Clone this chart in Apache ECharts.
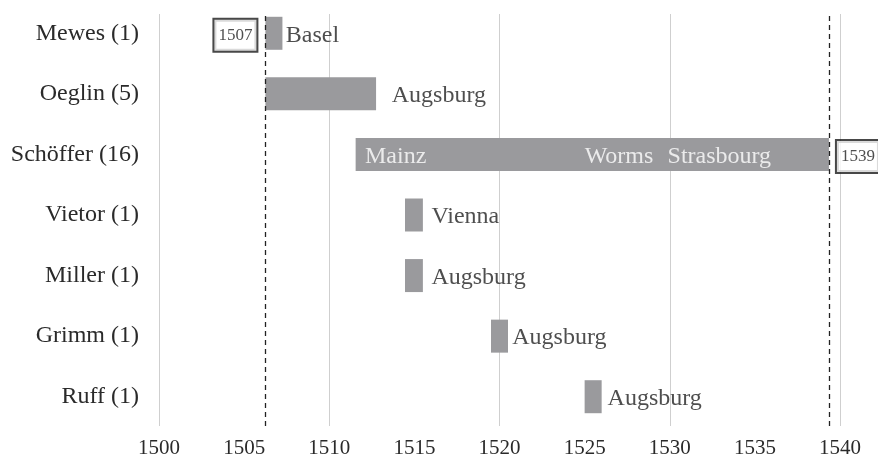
<!DOCTYPE html>
<html>
<head>
<meta charset="utf-8">
<script src="https://cdn.jsdelivr.net/npm/echarts@6/dist/echarts.min.js"></script>
<style>
html,body{margin:0;padding:0;background:#fff;}
#chart{width:878px;height:459px;}
</style>
</head>
<body>
<div id="chart"></div>
<script>
// ---- data ----
const rows = ['Mewes (1)', 'Oeglin (5)', 'Schöffer (16)', 'Vietor (1)', 'Miller (1)', 'Grimm (1)', 'Ruff (1)'];
const barStart = [1506.25, 1506.25, 1511.55, 1514.45, 1514.45, 1519.5, 1525.0];
const barEnd   = [1507.25, 1512.75, 1539.35, 1515.5, 1515.5, 1520.5, 1526.0];
const cityRow  = [0, 1, 2, 2, 2, 3, 4, 5, 6];
const cityName = ['Basel', 'Augsburg', 'Mainz', 'Worms', 'Strasbourg', 'Vienna', 'Augsburg', 'Augsburg', 'Augsburg'];
const cityYear = [1507.45, 1513.67, 1512.1, 1525.0, 1529.87, 1516.0, 1516.0, 1520.75, 1526.35];
const markerYears = [1506.25, 1539.35];
const markerText  = ['1507', '1539'];
const markerRow   = [0, 2];
const xMin = 1500, xMax = 1540, xStep = 5, gridStep = 10;

// ---- chart ----
const FONT = '"Liberation Serif", "DejaVu Serif", serif';
const chart = echarts.init(document.getElementById('chart'), null, {renderer: 'canvas'});

const cityData = cityName.map((name, i) => {
  const r = cityRow[i];
  const inside = cityYear[i] >= barStart[r] && cityYear[i] < barEnd[r];
  return {
    value: [cityYear[i], rows[r], name],
    label: {color: inside ? '#ffffff' : '#222222'}
  };
});

const markerData = markerText.map((t, i) => ({
  value: [markerYears[i], rows[markerRow[i]], t],
  label: i === 0 ? {position: 'left', distance: 9} : {position: 'right', distance: 8}
}));

const option = {
  animation: false,
  backgroundColor: '#ffffff',
  grid: [
    {left: 159, right: 38, top: 3, bottom: 32},
    {left: 159, right: 38, top: 14, bottom: 31}
  ],
  xAxis: [
    {gridIndex: 0, type: 'value', min: xMin, max: xMax, show: false},
    {gridIndex: 1, type: 'value', min: xMin, max: xMax, interval: xStep,
      axisLine: {show: false}, axisTick: {show: false}, splitLine: {show: false},
      axisLabel: {margin: 12, fontFamily: FONT, fontSize: 21, color: '#2a2a2a',
        formatter: v => String(v)}},
    {gridIndex: 1, type: 'value', min: xMin, max: xMax, interval: gridStep,
      axisLine: {show: false}, axisTick: {show: false}, axisLabel: {show: false},
      splitLine: {show: true, lineStyle: {color: '#cfcfcf', width: 1}}}
  ],
  yAxis: [
    {gridIndex: 0, type: 'category', data: rows, inverse: true,
      axisLine: {show: false}, axisTick: {show: false}, splitLine: {show: false},
      axisLabel: {margin: 20, fontFamily: FONT, fontSize: 24, color: '#2a2a2a'}},
    {gridIndex: 1, type: 'value', min: 0, max: 1, show: false}
  ],
  series: [
    {
      type: 'line', xAxisIndex: 2, yAxisIndex: 1, data: [], silent: true, z: 5,
      markLine: {
        symbol: 'none', silent: true, label: {show: false}, z: 5,
        lineStyle: {color: '#222', type: [5, 4], width: 1.3},
        data: markerYears.map(v => ({xAxis: v}))
      }
    },
    {
      type: 'bar', xAxisIndex: 0, yAxisIndex: 0, stack: 'b', barWidth: 33, z: 2,
      itemStyle: {color: 'transparent'}, silent: true,
      data: barStart
    },
    {
      type: 'bar', xAxisIndex: 0, yAxisIndex: 0, stack: 'b', barWidth: 33, z: 2,
      itemStyle: {color: '#9a9a9d'},
      data: barEnd.map((e, i) => +(e - barStart[i]).toFixed(3))
    },
    {
      type: 'scatter', xAxisIndex: 0, yAxisIndex: 0, symbolSize: 0, silent: true, z: 6,
      label: {show: true, position: 'right', distance: 0, fontFamily: FONT, fontSize: 24,
        offset: [0, 2], formatter: p => p.value[2]},
      data: cityData
    },
    {
      type: 'scatter', xAxisIndex: 0, yAxisIndex: 0, symbolSize: 0, silent: true, z: 6,
      label: {show: true, fontFamily: FONT, fontSize: 17, lineHeight: 17, color: '#222',
        backgroundColor: '#fff', borderColor: '#1a1a1a', borderWidth: 2, padding: [7, 4, 7, 4],
        offset: [0, 2], formatter: p => p.value[2]},
      data: markerData
    }
  ]
};
chart.setOption(option);
</script>
</body>
</html>
